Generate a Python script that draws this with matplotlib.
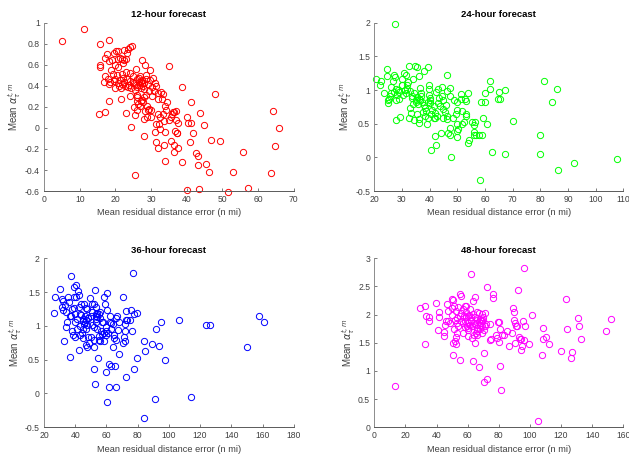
import numpy as np
import matplotlib
matplotlib.use("Agg")
import matplotlib.pyplot as plt
from matplotlib.ticker import FuncFormatter

plt.rcParams['font.family'] = ['Liberation Sans', 'DejaVu Sans']

# ---------------- data ----------------
x12 = [5.0, 11.1, 15.7, 18.3, 15.7, 15.7, 17.0, 17.6, 18.2, 19.5, 20.2, 20.6, 19.0, 20.7, 21.2, 21.8,
       22.5, 22.5, 23.3, 23.5, 24.0, 24.6, 23.1, 22.0, 19.8, 20.8, 27.5, 28.4, 29.6, 35.0, 25.8, 18.9,
       17.2, 16.8, 18.0, 18.5, 18.2, 19.2, 19.5, 20.0, 20.4, 20.8, 21.0, 21.3, 21.8, 22.3, 22.6, 23.0,
       23.2, 23.8, 24.2, 24.5, 25.0, 25.3, 25.8, 26.2, 26.6, 27.0, 27.2, 27.4, 27.5, 27.8, 28.1, 28.5,
       28.7, 29.2, 29.8, 30.3, 30.5, 31.0, 31.5, 20.0, 21.5, 23.5, 25.5, 26.0, 28.0, 29.5, 30.9, 32.0,
       32.8, 33.4, 33.0, 21.8, 22.2, 24.0, 25.0, 26.5, 27.0, 27.3,
       38.8, 41.1, 47.8, 18.2, 21.5, 24.0, 26.0, 26.2, 26.4, 26.8, 27.3, 28.5, 28.0, 27.6, 15.4, 17.0,
       23.1, 25.6, 24.3, 25.1, 28.2, 28.8, 28.0, 29.4, 29.9, 30.0, 29.1, 31.5, 31.9, 32.2, 32.4, 31.2,
       31.5, 31.9, 32.6, 33.3, 33.5, 33.9, 34.3, 33.8, 33.7, 33.8, 34.6, 35.1, 35.5, 35.8, 36.4, 37.0,
       36.2, 35.7, 36.3, 36.5, 37.6, 37.1, 37.2, 37.4, 36.8, 37.5, 38.6, 40.0, 40.4, 41.3, 40.9, 41.7,
       42.7, 43.3, 43.3, 43.6, 40.0, 43.4, 44.9, 45.3, 46.2, 46.8, 49.2, 51.6, 53.0, 55.8, 57.2, 63.7,
       64.3, 64.7, 66.0, 28.1, 25.6, 26.1, 26.0, 27.7, 29.0, 30.2, 32.0]
y12 = [0.83, 0.94, 0.80, 0.84, 0.60, 0.58, 0.67, 0.70, 0.64, 0.71, 0.73, 0.73, 0.65, 0.66, 0.67, 0.66,
       0.65, 0.74, 0.71, 0.75, 0.77, 0.78, 0.66, 0.62, 0.60, 0.58, 0.65, 0.60, 0.55, 0.59, 0.56, 0.55,
       0.49, 0.44, 0.47, 0.44, 0.42, 0.51, 0.45, 0.47, 0.50, 0.43, 0.40, 0.46, 0.42, 0.44, 0.40, 0.53,
       0.47, 0.41, 0.45, 0.38, 0.49, 0.43, 0.41, 0.47, 0.44, 0.41, 0.45, 0.43, 0.46, 0.40, 0.43, 0.47,
       0.50, 0.42, 0.46, 0.39, 0.48, 0.43, 0.40, 0.38, 0.38, 0.39, 0.36, 0.39, 0.37, 0.35, 0.35, 0.33,
       0.34, 0.32, 0.28, 0.51, 0.48, 0.52, 0.44, 0.48, 0.49, 0.38,
       0.39, 0.25, 0.32, 0.26, 0.28, 0.30, 0.29, 0.26, 0.23, 0.21, 0.26, 0.31, 0.29, 0.27, 0.13, 0.15,
       0.14, 0.12, 0.01, 0.20, 0.16, 0.10, 0.09, 0.18, 0.17, 0.10, 0.17, 0.04, 0.13, 0.04, 0.10, -0.04,
       -0.13, -0.19, -0.01, 0.13, 0.07, 0.21, 0.17, -0.04, -0.16, -0.31, 0.25, 0.08, 0.10, 0.13, 0.15, 0.16,
       0.15, -0.12, -0.16, -0.23, 0.05, 0.08, -0.05, -0.05, -0.03, -0.19, -0.32, 0.10, 0.05, 0.05, -0.13, -0.05,
       -0.24, -0.27, -0.35, 0.14, -0.59, -0.58, 0.03, -0.34, -0.42, -0.11, -0.12, -0.61, -0.42, -0.23, -0.57, -0.43,
       0.16, -0.17, 0.00, -0.08, -0.45, 0.31, 0.17, 0.25, 0.21, 0.30, 0.28]

x24 = [20.8, 27.5, 24.7, 22.4, 22.1, 23.5, 24.7, 24.8, 25.0, 25.6, 26.6, 26.2, 27.2, 27.5, 27.8, 28.1,
       27.7, 27.8, 29.3, 29.1, 29.9, 29.9, 30.7, 31.4, 31.7, 31.5, 32.3, 32.6, 32.6, 32.9, 33.3, 33.8,
       34.1, 34.7, 35.3, 34.5, 35.3, 36.2, 36.1, 36.3, 36.5, 37.0, 38.1, 39.6, 38.6, 39.0, 39.3, 39.8,
       39.9, 39.8, 41.6, 42.0, 41.8, 42.0, 42.3, 40.4, 42.3, 43.2, 43.4, 43.8, 44.3, 44.3, 44.7, 44.7,
       44.0, 46.2, 45.6, 46.2, 46.4, 46.4, 47.2, 47.4, 47.4, 46.8, 47.2, 47.9, 48.9, 48.6, 49.6, 49.8,
       50.0, 49.8, 50.0, 49.8, 50.4, 51.3, 51.4, 51.6, 51.6, 52.8, 53.2, 53.2, 53.2, 52.6, 53.8, 54.1,
       53.8, 55.3, 55.9, 55.9, 56.1, 56.5, 56.7, 57.7, 58.5, 58.9, 59.3, 59.9, 60.1, 60.8, 61.7, 62.0,
       62.4, 64.6, 65.0, 65.3, 67.1, 67.4, 70.0, 58.3, 79.8, 79.8, 81.5, 84.3, 86.1, 86.3, 92.1, 107.8,
       30.2, 31.0, 32.0, 33.0, 34.5, 35.5, 36.0, 36.5, 37.2, 38.0, 38.5, 39.5, 40.0, 40.1, 40.2, 35.0,
       35.2, 35.8, 36.8, 34.0, 33.5, 30.5, 29.0, 28.5, 27.0, 26.0, 25.3, 41.0, 42.5, 43.0, 45.0, 46.0,
       38.5, 37.5, 40.5, 41.5]
y24 = [1.16, 1.98, 1.31, 1.14, 1.07, 0.95, 1.21, 0.86, 0.81, 0.91, 1.13, 1.05, 1.23, 1.19, 1.02, 0.93,
       0.85, 0.56, 0.60, 0.97, 1.07, 1.17, 1.25, 1.23, 1.07, 0.95, 1.12, 1.36, 0.58, 0.74, 0.66, 0.88,
       1.16, 1.36, 1.34, 0.56, 0.64, 1.21, 0.57, 0.51, 1.03, 0.96, 1.29, 1.35, 0.69, 0.49, 0.58, 1.08,
       1.02, 0.93, 0.77, 0.66, 0.59, 0.32, 0.19, 0.11, 0.97, 1.01, 0.89, 0.76, 1.05, 0.91, 0.85, 0.59,
       0.37, 1.23, 0.67, 0.61, 0.57, 0.98, 1.03, 0.91, 0.44, 0.37, 0.34, 0.01, 0.86, 0.58, 0.65, 0.71,
       0.82, 0.39, 0.30, 0.49, 0.42, 0.94, 0.87, 0.69, 0.49, 0.87, 0.84, 0.64, 0.61, 0.52, 0.95, 0.26,
       0.21, 0.52, 0.48, 0.38, 0.34, 0.53, 0.34, 0.34, 0.82, 0.33, 0.59, 0.82, 0.95, 0.49, 1.02, 1.13,
       0.08, 0.87, 0.97, 0.87, 1.00, 0.05, 0.54, -0.33, 0.34, 0.05, 1.14, 0.82, 1.02, -0.19, -0.09, -0.02,
       1.07, 1.00, 1.02, 0.98, 0.95, 0.90, 0.87, 0.85, 0.82, 0.78, 0.74, 0.83, 0.86, 0.81, 0.88, 0.86,
       0.83, 0.80, 0.91, 0.79, 0.92, 0.93, 0.87, 1.00, 0.97, 0.95, 0.87, 0.70, 0.62, 0.81, 0.72, 0.78,
       0.62, 0.68, 0.65, 0.58]

x36 = [26.4, 27.3, 30.0, 31.8, 32.2, 31.5, 32.2, 33.2, 32.8, 34.3, 35.0, 35.4, 36.5, 37.1, 36.9, 37.5,
       38.2, 38.6, 39.0, 39.2, 39.0, 39.7, 39.7, 40.3, 40.7, 41.2, 41.8, 42.2, 42.2, 42.9, 42.4, 42.9,
       43.9, 44.6, 45.0, 45.0, 45.4, 45.0, 45.6, 46.1, 46.7, 47.1, 47.6, 47.8, 47.6, 48.2, 48.2, 48.8,
       49.7, 50.3, 50.6, 51.0, 51.8, 52.1, 52.1, 52.1, 52.5, 52.9, 53.1, 53.1, 53.5, 53.5, 54.0, 54.2,
       54.6, 55.0, 55.7, 56.1, 56.3, 57.4, 58.2, 58.2, 58.5, 58.9, 59.5, 59.9, 60.4, 59.9, 60.4, 60.6,
       61.7, 61.7, 62.1, 62.7, 63.2, 64.2, 64.9, 64.9, 65.7, 66.4, 66.4, 66.8, 67.4, 67.9, 70.3, 70.6,
       71.3, 71.7, 71.7, 72.4, 72.4, 72.4, 74.9, 75.6, 76.6, 77.1, 77.5, 77.7, 79.6, 79.8, 83.9, 85.0,
       83.9, 89.4, 91.9, 91.2, 93.7, 94.8, 97.8, 106.5, 114.0, 123.6, 126.6, 150.1, 157.8, 161.0,
       45, 46, 47, 48, 50, 51, 53, 54, 55, 56, 44, 43, 41, 60, 62, 64, 58, 57, 66, 68, 72, 73, 36, 38,
       34, 40, 47, 52, 55, 61, 63]
y36 = [1.19, 1.43, 1.54, 1.40, 1.36, 1.28, 1.24, 1.31, 0.77, 0.99, 1.05, 1.42, 1.15, 1.14, 0.54, 1.73,
       0.93, 0.87, 1.43, 1.57, 1.27, 1.17, 0.83, 1.61, 1.42, 1.10, 1.51, 1.46, 1.28, 1.17, 0.64, 0.87,
       1.33, 0.89, 0.96, 0.82, 1.32, 1.07, 1.02, 1.14, 0.72, 1.27, 0.68, 1.01, 1.25, 1.11, 0.84, 0.74,
       1.41, 0.84, 1.01, 1.32, 1.32, 0.79, 0.36, 0.69, 1.53, 0.14, 1.17, 1.28, 1.15, 1.06, 0.96, 1.19,
       0.53, 0.79, 0.77, 1.11, 0.92, 1.06, 0.77, 0.89, 1.43, 1.32, 0.92, 0.32, 1.48, 0.87, -0.12, 1.24,
       0.10, 0.43, 1.14, 0.40, 1.04, 0.69, 0.87, 0.82, 0.40, 0.79, 0.10, 1.15, 0.94, 0.58, 1.42, 0.74,
       0.84, 0.92, 0.77, 0.25, 1.09, 1.22, 1.09, 1.24, 0.93, 1.78, 1.17, 0.36, 1.19, 0.53, 0.78, 0.63,
       -0.36, 0.73, 0.95, -0.08, 0.70, 1.05, 0.49, 1.08, -0.05, 1.01, 1.01, 0.68, 1.14, 1.05,
       1.10, 1.05, 1.08, 1.12, 1.15, 1.20, 1.10, 1.13, 1.17, 1.20, 1.16, 1.00, 0.95, 0.98, 1.05, 1.02,
       1.05, 0.88, 1.12, 1.05, 1.02, 1.08, 1.35, 1.25, 1.20, 1.05, 0.95, 0.98, 0.85, 0.90, 0.95]

x48 = [13.5, 29.5, 32.3, 32.3, 33.4, 34.9, 35.3, 39.8, 40.9, 41.3, 41.9, 44.5, 44.9, 45.5, 46.0, 46.6,
       47.1, 47.3, 48.8, 49.8, 49.8, 50.5, 50.9, 50.9, 51.3, 51.3, 52.0, 52.0, 52.4, 52.4, 52.4, 53.0,
       53.0, 53.7, 54.1, 54.8, 55.2, 55.6, 55.6, 55.8, 56.9, 57.8, 58.0, 58.4, 58.8, 59.0, 59.5, 59.9,
       60.1, 60.5, 60.5, 61.2, 61.6, 62.0, 62.2, 62.7, 63.1, 63.3, 63.7, 63.7, 64.2, 64.4, 64.8, 64.8,
       65.2, 65.9, 65.9, 66.3, 67.0, 67.6, 68.0, 68.7, 68.7, 69.1, 69.1, 69.5, 69.7, 70.2, 70.8, 71.2,
       70.8, 71.7, 72.3, 72.3, 74.4, 74.4, 75.1, 76.2, 76.2, 78.1, 79.1, 79.8, 80.4, 80.4, 80.9, 80.9,
       81.3, 81.9, 83.4, 85.1, 86.8, 88.8, 89.0, 89.8, 89.8, 90.1, 90.1, 90.9, 91.5, 92.2, 93.0, 93.3,
       94.3, 94.1, 95.2, 95.4, 96.3, 96.3, 96.9, 99.5, 101.2, 105.5, 107.6, 108.2, 108.7, 110.4, 112.5,
       119.8, 123.2, 123.6, 126.2, 127.3, 130.7, 131.8, 132.6, 148.7, 151.9,
       57, 58, 60, 62, 63, 65, 66, 67, 68, 69, 70, 71, 68, 66, 64, 62, 61, 59, 57, 55, 53, 50]
y48 = [0.74, 2.11, 2.16, 1.48, 1.97, 1.95, 1.88, 2.20, 1.73, 2.05, 1.95, 1.62, 1.69, 1.82, 1.89, 2.18,
       2.06, 1.89, 1.85, 2.11, 2.28, 2.25, 1.29, 1.50, 2.15, 1.75, 1.91, 1.53, 2.07, 1.60, 1.48, 1.67,
       1.94, 2.13, 1.79, 1.20, 2.37, 2.33, 1.88, 2.03, 1.67, 1.97, 2.15, 1.88, 2.15, 2.05, 1.79, 1.62,
       1.85, 1.97, 1.76, 2.09, 1.82, 2.72, 1.91, 1.59, 1.79, 2.24, 1.17, 2.01, 1.64, 1.95, 2.31, 1.50,
       1.67, 2.05, 1.76, 1.64, 1.07, 2.03, 1.93, 1.91, 1.85, 2.01, 1.67, 1.79, 1.95, 1.72, 1.32, 2.03,
       0.80, 1.84, 0.86, 2.49, 1.84, 1.54, 1.56, 2.37, 2.30, 1.64, 1.59, 1.86, 1.86, 1.51, 1.75, 1.09,
       0.66, 1.64, 1.64, 1.70, 1.44, 1.67, 2.11, 1.90, 2.05, 1.85, 1.50, 1.79, 1.79, 2.43, 1.60, 1.56,
       1.56, 1.38, 1.44, 1.88, 2.83, 1.54, 1.80, 1.47, 1.99, 0.12, 1.28, 1.57, 1.76, 1.60, 1.47,
       1.35, 2.28, 1.75, 1.23, 1.33, 1.94, 1.80, 1.57, 1.70, 1.92,
       1.85, 1.78, 1.72, 1.88, 1.80, 1.84, 1.90, 1.86, 1.82, 1.88, 1.90, 1.80, 1.75, 1.70, 1.85, 1.95,
       2.00, 1.95, 2.10, 1.98, 1.85, 2.00]

panels = [
    ("12-hour forecast", x12, y12, (1, 0, 0), (0, 70), np.arange(0, 71, 10), (-0.6, 1), np.arange(-0.6, 1.01, 0.2)),
    ("24-hour forecast", x24, y24, (0, 1, 0), (20, 110), np.arange(20, 111, 10), (-0.5, 2), np.arange(-0.5, 2.01, 0.5)),
    ("36-hour forecast", x36, y36, (0, 0, 1), (20, 180), np.arange(20, 181, 20), (-0.5, 2), np.arange(-0.5, 2.01, 0.5)),
    ("48-hour forecast", x48, y48, (1, 0, 1), (0, 160), np.arange(0, 161, 20), (0, 3), np.arange(0, 3.01, 0.5)),
]

# axes boxes in figure fractions (left, bottom, width, height)
boxes = [(0.070, 0.582, 0.397, 0.368), (0.595, 0.582, 0.396, 0.368),
         (0.070, 0.065, 0.397, 0.370), (0.595, 0.065, 0.396, 0.370)]

fig = plt.figure(figsize=(6.29, 4.57), dpi=100)
fmt = FuncFormatter(lambda v, p: '%g' % round(v, 2) if abs(v) > 1e-9 else '0')
txtcol = (0.25, 0.25, 0.25)

for (title, xs, ys, col, xl, xt, yl, yt), box in zip(panels, boxes):
    ax = fig.add_axes(box)
    ax.plot(xs, ys, 'o', mfc='none', mec=col, ms=4.5, mew=0.7, clip_on=False)
    ax.set_xlim(*xl)
    ax.set_ylim(*yl)
    ax.set_xticks(xt)
    ax.set_yticks(yt)
    ax.xaxis.set_major_formatter(fmt)
    ax.yaxis.set_major_formatter(fmt)
    for s in ['top', 'right']:
        ax.spines[s].set_visible(False)
    ax.spines['left'].set_color((0.55, 0.55, 0.55))
    ax.spines['bottom'].set_color((0.35, 0.35, 0.35))
    for s in ['left', 'bottom']:
        ax.spines[s].set_linewidth(0.7)
    ax.tick_params(direction='in', length=2.5, width=0.6, colors=(0.4, 0.4, 0.4),
                   labelcolor=txtcol, labelsize=6.2, pad=3)
    ax.set_title(title, fontsize=6.8, fontweight='bold', pad=4, color='black')
    ax.set_xlabel('Mean residual distance error (n mi)', fontsize=6.7, color=txtcol, labelpad=3)
    ax.set_ylabel(r'Mean $\alpha_{\tau}^{t,m}$', fontsize=7, color=txtcol, labelpad=1)

fig.savefig('out.png', dpi=100)
